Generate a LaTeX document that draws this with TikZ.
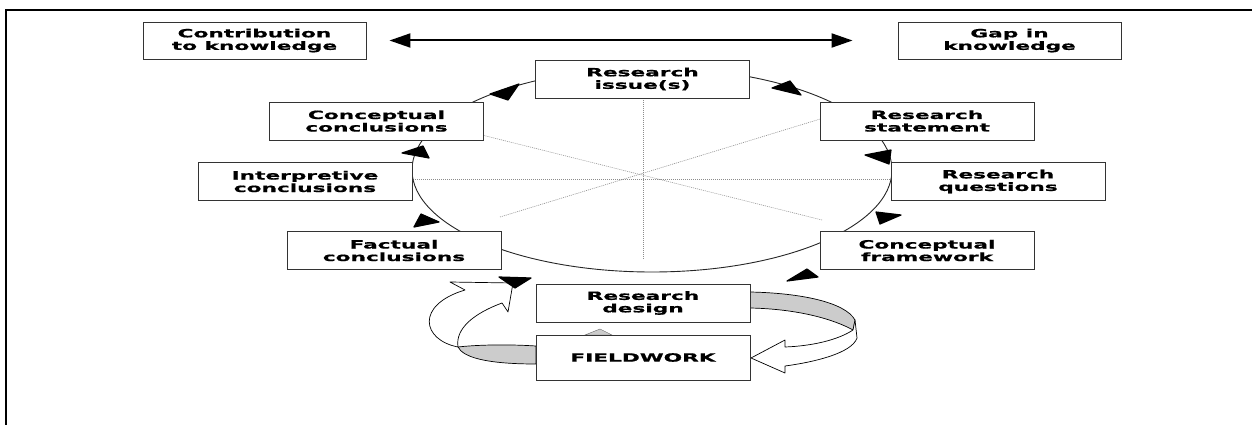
\documentclass[tikz,border=0pt]{standalone}
\usepackage{fontspec}
\newfontfamily\boxfont{DejaVu Sans}[FakeStretch=1.9, BoldFeatures={FakeBold=0.8}]
\usetikzlibrary{arrows.meta}
\begin{document}
\begin{tikzpicture}[x=1pt,y=-1pt,
  stage/.style={draw=black!80, line width=0.9pt, fill=white,
    minimum width=214pt, minimum height=38pt, inner sep=0pt, align=center,
    font={\boxfont\bfseries\fontsize{11.4pt}{12.5pt}\selectfont}},
  wide/.style={stage, minimum width=223pt, minimum height=37pt},
  guide/.style={black!45, line width=0.6pt, dash pattern=on 1pt off 1pt},
  cycle/.style={black!85, line width=0.9pt},
  head/.style={fill=black, draw=black, line width=1.2pt, line join=round},
  ribbon/.style={draw=black, line width=0.7pt, line join=round},
  back/.style={ribbon, fill=gray!40},
  front/.style={ribbon, fill=white}]
\useasboundingbox (0,0) rectangle (1252,425);

% page frame
\draw[line width=2pt] (1252,10) -- (6,10) -- (6,425);

% spokes inside the research cycle
\draw[guide] (643,98) -- (643,260);
\draw[guide] (413,179) -- (891,179);
\draw[guide] (470,132) -- (822,220);
\draw[guide] (500,217) -- (830,116);

% the research cycle
\draw[cycle] (652,170) ellipse [x radius=240pt, y radius=102pt];

% arrowheads along the cycle
\path[head] (490,94) -- (519,84) -- (508,100) -- cycle;
\path[head] (772,88) -- (801,95) -- (790,81) -- cycle;
\path[head] (865,155) -- (891,150) -- (889,164) -- cycle;
\path[head] (876,212) -- (901,215) -- (880,224) -- cycle;
\path[head] (787,281) -- (802,272) -- (807,269) -- (818,277) -- cycle;
\path[head] (414,227) -- (421,214) -- (439,222) -- cycle;
\path[head] (402,153) -- (423,146) -- (429,158) -- cycle;

% ribbon arrow: design -> fieldwork (right side)
\path[back] (750,292) .. controls (800,293) and (845,302) .. (855,320)
  -- (853,330) .. controls (835,320) and (800,309) .. (750,308) -- cycle;
\path[front] (853,330) .. controls (838,340) and (812,346) .. (785,347)
  -- (785,340) -- (751,358) -- (785,373) -- (785,366)
  .. controls (815,362) and (852,353) .. (857,338) -- (855,320) -- cycle;

% ribbon arrow: fieldwork -> factual conclusions (left side)
\path[back] (536,346) .. controls (505,344) and (475,345) .. (458,347)
  .. controls (463,357) and (485,364) .. (536,364) -- cycle;
\path[front] (458,347) .. controls (422,340) and (415,305) .. (465,290)
  -- (450,282) -- (513,283) -- (508,312) -- (502,303)
  .. controls (475,313) and (455,328) .. (458,347) -- cycle;
\path[head] (499,277) -- (531,278) -- (515,288) -- cycle;

% fold peeking above the fieldwork box
\filldraw[fill=gray!40, draw=black!60, line width=0.4pt] (585,335) -- (600,329) -- (612,335) -- cycle;

% stages
\node[wide]  (contrib)   at (254.5,40.5) {Contribution\\to knowledge};
\node[wide]  (gap)       at (1009.5,40.5) {Gap in\\knowledge};
\node[stage] (issue)     at (642.5,79)  {Research\\issue(s)};
\node[stage] (cconcl)    at (376.5,121) {Conceptual\\conclusions};
\node[stage] (statement) at (927,121)   {Research\\statement};
\node[stage] (interp)    at (305,181.5) {Interpretive\\conclusions};
\node[stage] (questions) at (998,181.5) {Research\\questions};
\node[stage] (factual)   at (394,250.5) {Factual\\conclusions};
\node[stage] (framework) at (927,250.5) {Conceptual\\framework};
\node[stage] (design)    at (643,303)   {Research\\design};
\node[stage, minimum height=45pt] (fieldwork) at (643,357.5) {FIELDWORK};

% knowledge axis
\draw[line width=2pt, {Triangle[length=21pt,width=14pt]}-{Triangle[length=21pt,width=14pt]}]
  ([xshift=23pt]contrib.east) -- ([xshift=-45pt]gap.west);
\end{tikzpicture}
\end{document}
